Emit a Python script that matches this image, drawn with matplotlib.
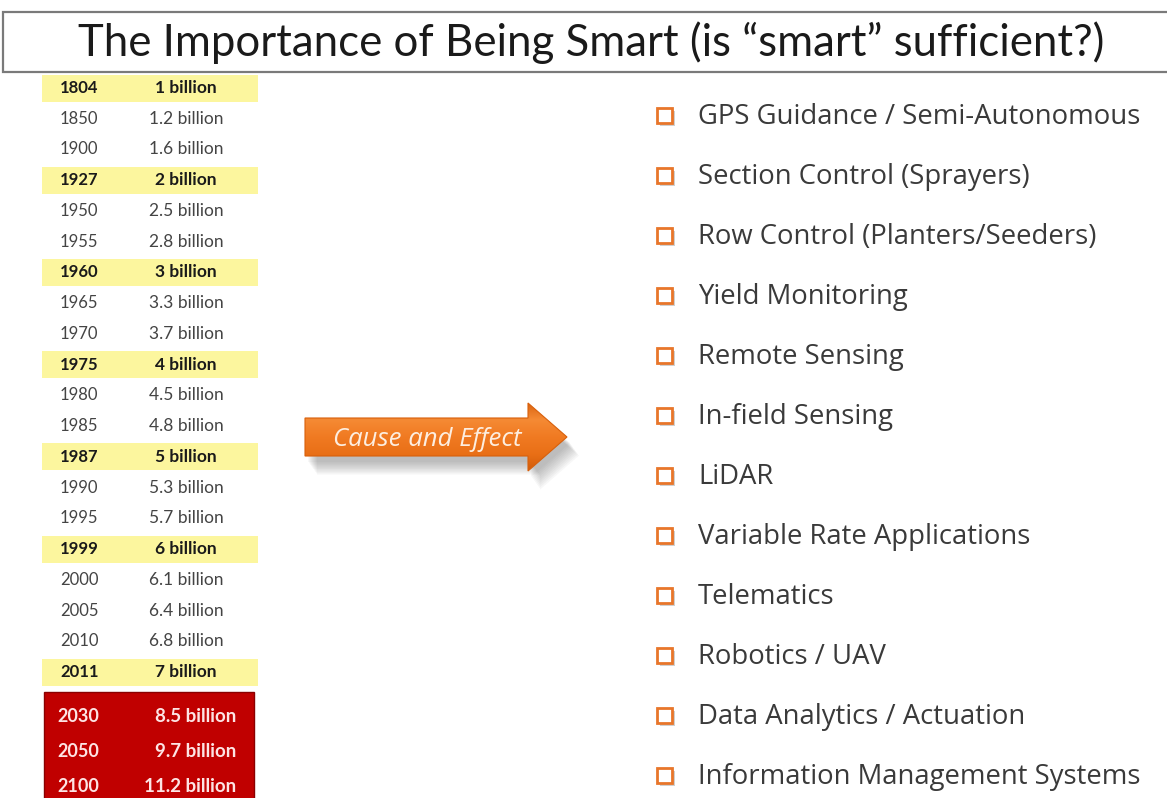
import numpy as np
import matplotlib
matplotlib.use("Agg")
import matplotlib.pyplot as plt
from matplotlib.patches import Rectangle, Polygon
from matplotlib.colors import LinearSegmentedColormap

# Data
title = "The Importance of Being Smart (is \u201csmart\u201d sufficient?)"
years = [1804, 1850, 1900, 1927, 1950, 1955, 1960, 1965, 1970, 1975,
         1980, 1985, 1987, 1990, 1995, 1999, 2000, 2005, 2010, 2011]
population = [1, 1.2, 1.6, 2, 2.5, 2.8, 3, 3.3, 3.7, 4,
              4.5, 4.8, 5, 5.3, 5.7, 6, 6.1, 6.4, 6.8, 7]
proj_years = [2030, 2050, 2100]
proj_population = [8.5, 9.7, 11.2]
arrow_label = "Cause and Effect"
technologies = [
    "GPS Guidance / Semi-Autonomous",
    "Section Control (Sprayers)",
    "Row Control (Planters/Seeders)",
    "Yield Monitoring",
    "Remote Sensing",
    "In-field Sensing",
    "LiDAR",
    "Variable Rate Applications",
    "Telematics",
    "Robotics / UAV",
    "Data Analytics / Actuation",
    "Information Management Systems",
]

W, H = 1167, 798
fig = plt.figure(figsize=(W / 100, H / 100), dpi=100)
ax = fig.add_axes([0, 0, 1, 1])
ax.set_xlim(0, W)
ax.set_ylim(H, 0)
ax.axis("off")

# title box
ax.add_patch(Rectangle((3, 12), W + 10, 60, facecolor="white",
                       edgecolor="#7a7a7a", lw=1.6, zorder=2))
ax.text(591, 43, title, ha="center", va="center", fontsize=31.5,
        family="Lato", weight="normal", color="#1a1a1a", zorder=3)

# population table
row0, row_step = 88, 30.74
yellow = "#fcf69e"
for i, (yr, pop) in enumerate(zip(years, population)):
    y = row0 + i * row_step
    milestone = float(pop).is_integer()
    if milestone:
        ax.add_patch(Rectangle((42, y - 13.5), 216, 27, facecolor=yellow,
                               edgecolor="none", zorder=1))
    kw = dict(va="center", family="Lato",
              weight="bold" if milestone else "normal",
              color="#1a1a1a" if milestone else "#444444", zorder=3)
    ax.text(60, y, str(yr), ha="left", fontsize=12, **kw)
    ax.text(186, y, f"{pop:g} billion", ha="center", fontsize=12.5, **kw)

ax.add_patch(Rectangle((44, 692), 210, 110, facecolor="#c00000",
                       edgecolor="#8a0000", lw=1, zorder=1))
for i, (yr, pop) in enumerate(zip(proj_years, proj_population)):
    y = 717 + i * 34.5
    kw = dict(va="center", family="Lato", weight="bold",
              color="#fde4e4", zorder=3)
    ax.text(57, y, str(yr), ha="left", fontsize=13, **kw)
    ax.text(236, y, f"{pop:g} billion", ha="right", fontsize=13.5, **kw)

# arrow with shadow and gradient
arrow_pts = np.array([(305, 418), (528, 418), (528, 403), (567, 437),
                      (528, 471), (528, 456), (305, 456)])
for k in range(10):
    off = np.array([3 + k * 1.0, 6 + k * 1.4])
    ax.add_patch(Polygon(arrow_pts + off, closed=True, facecolor="#505050",
                         edgecolor="none", alpha=0.045, zorder=1))
arrow = Polygon(arrow_pts, closed=True, facecolor="none",
                edgecolor="#d8600c", lw=0.8, zorder=4)
ax.add_patch(arrow)
cmap = LinearSegmentedColormap.from_list(
    "orange", ["#d9620f", "#f58a34", "#f07a22", "#e96f16", "#cf5a0a"])
grad = np.linspace(0, 1, 256).reshape(-1, 1)
img = ax.imshow(grad, cmap=cmap, extent=(305, 568, 472, 402),
                aspect="auto", origin="upper", zorder=3)
img.set_clip_path(arrow)
ax.set_xlim(0, W)
ax.set_ylim(H, 0)
ax.text(427, 439, arrow_label, ha="center", va="center", fontsize=18.5,
        family="Open Sans", style="italic", color="#fdeee0", zorder=5)

# technology list
for i, tech in enumerate(technologies):
    y = 116 + i * 60
    ax.add_patch(Rectangle((660, y - 5), 15, 15, facecolor="#d0d0d0",
                           edgecolor="none", zorder=2))
    ax.add_patch(Rectangle((657, y - 8), 15, 15, facecolor="white",
                           edgecolor="#e8762a", lw=2, zorder=3))
    ax.text(698, y + 1, tech, ha="left", va="center", fontsize=19.8,
            family="Open Sans", color="#3a3a3a", zorder=3)

fig.savefig("out.png", dpi=100)
